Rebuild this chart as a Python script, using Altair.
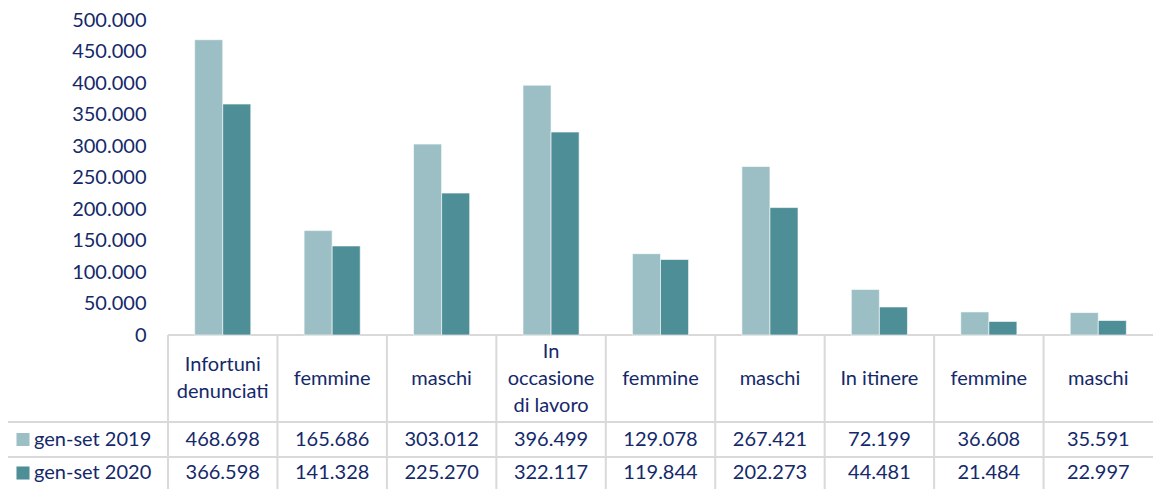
import altair as alt
import pandas as pd

# ---- data ----
categories = ["Infortuni\ndenunciati", "femmine", "maschi",
              "In\noccasione\ndi lavoro", "femmine", "maschi",
              "In itinere", "femmine", "maschi"]
series = ["gen-set 2019", "gen-set 2020"]
values_2019 = [468698, 165686, 303012, 396499, 129078, 267421, 72199, 36608, 35591]
values_2020 = [366598, 141328, 225270, 322117, 119844, 202273, 44481, 21484, 22997]
series_colors = ["#9BBFC5", "#4E8F97"]
y_ticks = [0, 50000, 100000, 150000, 200000, 250000, 300000, 350000, 400000, 450000, 500000]

# ---- layout ----
W, H = 985, 315
PAD_L, PAD_T, PAD_B = 160, 12, 154
HEADER_BOTTOM = H + 87
ROW1_BOTTOM = HEADER_BOTTOM + 35
ROW2_BOTTOM = H + PAD_B
LEFT_EDGE = -166
NAVY = "#14296A"
GRID = "#D9D9D9"
FONT = "Lato"
FS = 20
LH = 27

ids = [f"c{i}" for i in range(len(categories))]

rows = []
for cid, lab, v19, v20 in zip(ids, categories, values_2019, values_2020):
    for s, v in zip(series, (v19, v20)):
        rows.append({"cid": cid, "label": lab, "series": s, "value": v,
                     "txt": f"{v:,}".replace(",", ".")})
df = pd.DataFrame(rows)
hdr = pd.DataFrame({"cid": ids, "label": categories,
                    "nlines": [c.count("\n") + 1 for c in categories]})
leg = pd.DataFrame({"series": series})

xscale = alt.Scale(paddingInner=0, paddingOuter=0)
color = alt.Color("series:N", scale=alt.Scale(domain=series, range=series_colors), legend=None)

def X(band=0.5):
    return alt.X("cid:N", sort=ids, scale=xscale, axis=None, bandPosition=band)

# table grid
col_rules = alt.Chart(hdr).mark_rule(color=GRID, strokeWidth=2).encode(
    x=X(0), y=alt.value(H), y2=alt.value(ROW2_BOTTOM))
hl_axis = alt.Chart(hdr).mark_rule(color=GRID, strokeWidth=2).encode(
    x=alt.value(0), x2=alt.value(W), y=alt.value(H))
hl_r1 = alt.Chart(hdr).mark_rule(color=GRID, strokeWidth=2).encode(
    x=alt.value(LEFT_EDGE), x2=alt.value(W), y=alt.value(HEADER_BOTTOM))
hl_r2 = alt.Chart(hdr).mark_rule(color=GRID, strokeWidth=2).encode(
    x=alt.value(LEFT_EDGE), x2=alt.value(W), y=alt.value(ROW1_BOTTOM))
vl_left = alt.Chart(hdr).mark_rule(color=GRID, strokeWidth=2).encode(
    x=alt.value(LEFT_EDGE), y=alt.value(HEADER_BOTTOM), y2=alt.value(ROW2_BOTTOM))

bars = alt.Chart(df).mark_bar(stroke="white", strokeWidth=0.6).encode(
    x=X(),
    xOffset=alt.XOffset("series:N", sort=series,
                        scale=alt.Scale(paddingInner=0, paddingOuter=0.95)),
    y=alt.Y("value:Q", scale=alt.Scale(domain=[0, 500000], nice=False),
            axis=alt.Axis(values=y_ticks, title=None, grid=False, domain=False, ticks=False,
                          labelFont=FONT, labelFontSize=FS, labelColor=NAVY, labelPadding=22,
                          labelExpr="replace(format(datum.value, ','), ',', '.')")),
    color=color,
)

header_layers = []
hc = (H + HEADER_BOTTOM) / 2
for n in sorted(set(hdr["nlines"])):
    header_layers.append(
        alt.Chart(hdr).transform_filter(alt.datum.nlines == n).mark_text(
            font=FONT, fontSize=FS, color=NAVY, lineBreak="\n", lineHeight=LH,
            baseline="middle", align="center").encode(
            x=X(), y=alt.value(hc - (n - 1) * LH / 2), text="label:N"))

row_layers = []
row_centers = [(HEADER_BOTTOM + ROW1_BOTTOM) / 2, (ROW1_BOTTOM + ROW2_BOTTOM) / 2]
for s, yc in zip(series, row_centers):
    row_layers.append(
        alt.Chart(df).transform_filter(alt.datum.series == s).mark_text(
            font=FONT, fontSize=FS, color=NAVY, baseline="middle", align="center").encode(
            x=X(), y=alt.value(yc), text="txt:N"))
    row_layers.append(
        alt.Chart(leg).transform_filter(alt.datum.series == s).mark_square(
            size=170, opacity=1).encode(
            x=alt.value(-145), y=alt.value(yc), color=color))
    row_layers.append(
        alt.Chart(leg).transform_filter(alt.datum.series == s).mark_text(
            font=FONT, fontSize=FS, color=NAVY, baseline="middle", align="left").encode(
            x=alt.value(-134), y=alt.value(yc), text="series:N"))

chart = alt.layer(col_rules, hl_axis, hl_r1, hl_r2, vl_left, bars,
                  *header_layers, *row_layers).properties(
    width=W, height=H,
    autosize=alt.AutoSizeParams(type="none"),
    padding={"left": PAD_L, "top": PAD_T, "right": 0, "bottom": PAD_B},
).configure_view(stroke=None)

chart.save("out.html", embed_options={"renderer": "svg", "actions": False})
